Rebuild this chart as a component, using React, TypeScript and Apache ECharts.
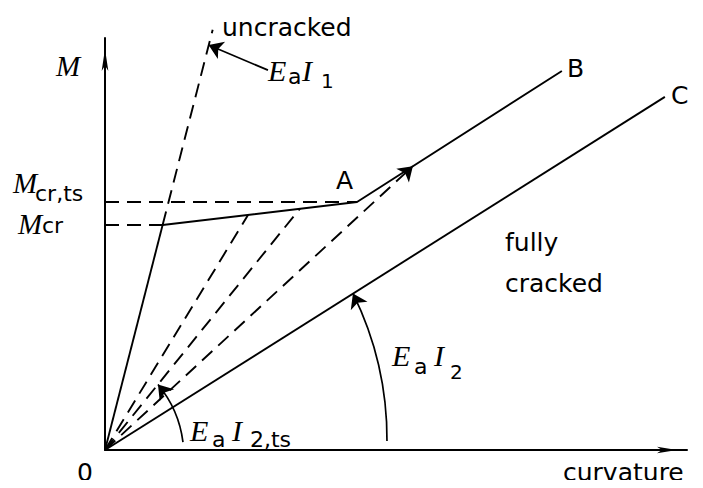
import { useEffect, useRef } from "react";
import * as echarts from "echarts";

// Moment levels on the M axis (0–100 scale)
const M_CR = 54.6;
const M_CR_TS = 60.2;

// Key points of the moment–curvature diagram, as [curvature, M]
const origin = [0, 0];
const crackPoint = [9.9, M_CR];
const uncrackedEnd = [18.5, 102.0];
const pointA = [43.3, M_CR_TS];
const pointB = [78.5, 92.0];
const pointC = [96.2, 85.7];

// Secant (unloading) lines from the origin to the cracking branch
const secantEnds = [
  [24.6, 57.1],
  [33.5, 58.6],
];
// Tension-stiffening secant meeting line A–B
const tensionStiffEnd = [52.9, 68.9];

// Annotation arrows: [start, end]
const ei1Leader = [
  [28.0, 92.2],
  [17.8, 98.3],
];
const ei2Arc = [
  [48.45, 2.2],
  [42.6, 38.0],
];
const ei2tsArc = [
  [13.4, 1.9],
  [9.1, 15.9],
];

const INK = "#000";
const SANS = "'DejaVu Sans', sans-serif";
const SERIF = "'Liberation Serif', serif";
const DASH = [14, 8];

type Txt = [string, number, number, number, string, boolean?];

// text pieces: [text, left, baseline, size, family, italic]
const texts: Txt[] = [
  ["M", 56, 75, 29, SERIF, true],
  ["M", 13, 192, 29, SERIF, true],
  ["cr,ts", 35, 201, 22, SANS],
  ["M", 18, 233, 29, SERIF, true],
  ["cr", 42, 233, 22, SANS],
  ["uncracked", 222, 35, 25, SANS],
  ["E", 268, 80, 30, SERIF, true],
  ["a", 288, 84, 22, SANS],
  ["I", 302, 80, 30, SERIF, true],
  ["1", 321, 87, 20, SANS],
  ["A", 336, 188, 25, SANS],
  ["B", 567, 76, 25, SANS],
  ["C", 671, 103, 25, SANS],
  ["fully", 505, 250, 25, SANS],
  ["cracked", 505, 291, 25, SANS],
  ["E", 392, 365, 30, SERIF, true],
  ["a", 414, 374, 22, SANS],
  ["I", 434, 365, 30, SERIF, true],
  ["2", 450, 378, 20, SANS],
  ["E", 190, 440, 30, SERIF, true],
  ["a", 212, 447, 22, SANS],
  ["I", 232, 440, 30, SERIF, true],
  ["2,ts", 250, 447, 22, SANS],
  ["0", 77, 480, 25, SANS],
  ["curvature", 563, 480, 25, SANS],
];

function textEl([text, x, base, size, family, italic]: Txt) {
  return {
    type: "text",
    x,
    y: base - 0.32 * size,
    silent: true,
    style: {
      text,
      fill: INK,
      font: `${italic ? "italic " : ""}${size}px ${family}`,
      align: "left",
      textAlign: "left",
      verticalAlign: "middle",
      textVerticalAlign: "middle",
    },
  };
}

function solid(name: string, data: number[][], dashed = false) {
  return {
    name,
    type: "line",
    data,
    symbol: "none",
    clip: false,
    silent: true,
    lineStyle: { color: INK, width: 1.9, type: dashed ? DASH : "solid" },
  };
}

function arrow(name: string, coords: number[][], curveness = 0, dashed = false) {
  return {
    name,
    type: "lines",
    coordinateSystem: "cartesian2d",
    symbol: ["none", "arrow"],
    symbolSize: [6, 14],
    silent: true,
    itemStyle: { color: INK, opacity: 1 },
    lineStyle: {
      color: INK,
      opacity: 1,
      width: dashed ? 1.9 : 1.7,
      curveness,
      type: dashed ? DASH : "solid",
    },
    data: [{ coords }],
  };
}

export default function App() {
  const ref = useRef<HTMLDivElement>(null);

  useEffect(() => {
    if (!ref.current) return;
    const chart = echarts.init(ref.current, undefined, { renderer: "svg" });

    const axisCommon = {
      type: "value",
      min: 0,
      max: 100,
      axisTick: { show: false },
      axisLabel: { show: false },
      splitLine: { show: false },
    };

    chart.setOption({
      animation: false,
      backgroundColor: "#fff",
      grid: { left: 105, right: 16, top: 38, bottom: 38 },
      xAxis: {
        ...axisCommon,
        axisLine: {
          show: true,
          lineStyle: { color: INK, width: 2 },
          symbol: ["none", "arrow"],
          symbolSize: [5, 20],
          symbolOffset: [0, -10],
        },
      },
      yAxis: {
        ...axisCommon,
        axisLine: {
          show: true,
          lineStyle: { color: INK, width: 2 },
          symbol: ["none", "arrow"],
          symbolSize: [5, 22],
          symbolOffset: [0, -11],
        },
      },
      series: [
        solid("uncracked", [origin, crackPoint]),
        solid("uncracked extension", [crackPoint, uncrackedEnd], true),
        solid("cracking branch", [crackPoint, pointA, pointB]),
        solid("fully cracked", [origin, pointC]),
        solid("M_cr level", [[0, M_CR], crackPoint], true),
        solid("M_cr,ts level", [[0, M_CR_TS], pointA], true),
        ...secantEnds.map((p, i) => solid(`secant ${i + 1}`, [origin, p], true)),
        arrow("tension stiffening", [origin, tensionStiffEnd], 0, true),
        arrow("EaI1 leader", ei1Leader),
        arrow("EaI2 arc", ei2Arc, -0.118),
        arrow("EaI2,ts arc", ei2tsArc, -0.146),
      ],
      graphic: texts.map(textEl),
    });

    return () => chart.dispose();
  }, []);

  return <div ref={ref} style={{ width: 703, height: 488, margin: -8 }} />;
}
